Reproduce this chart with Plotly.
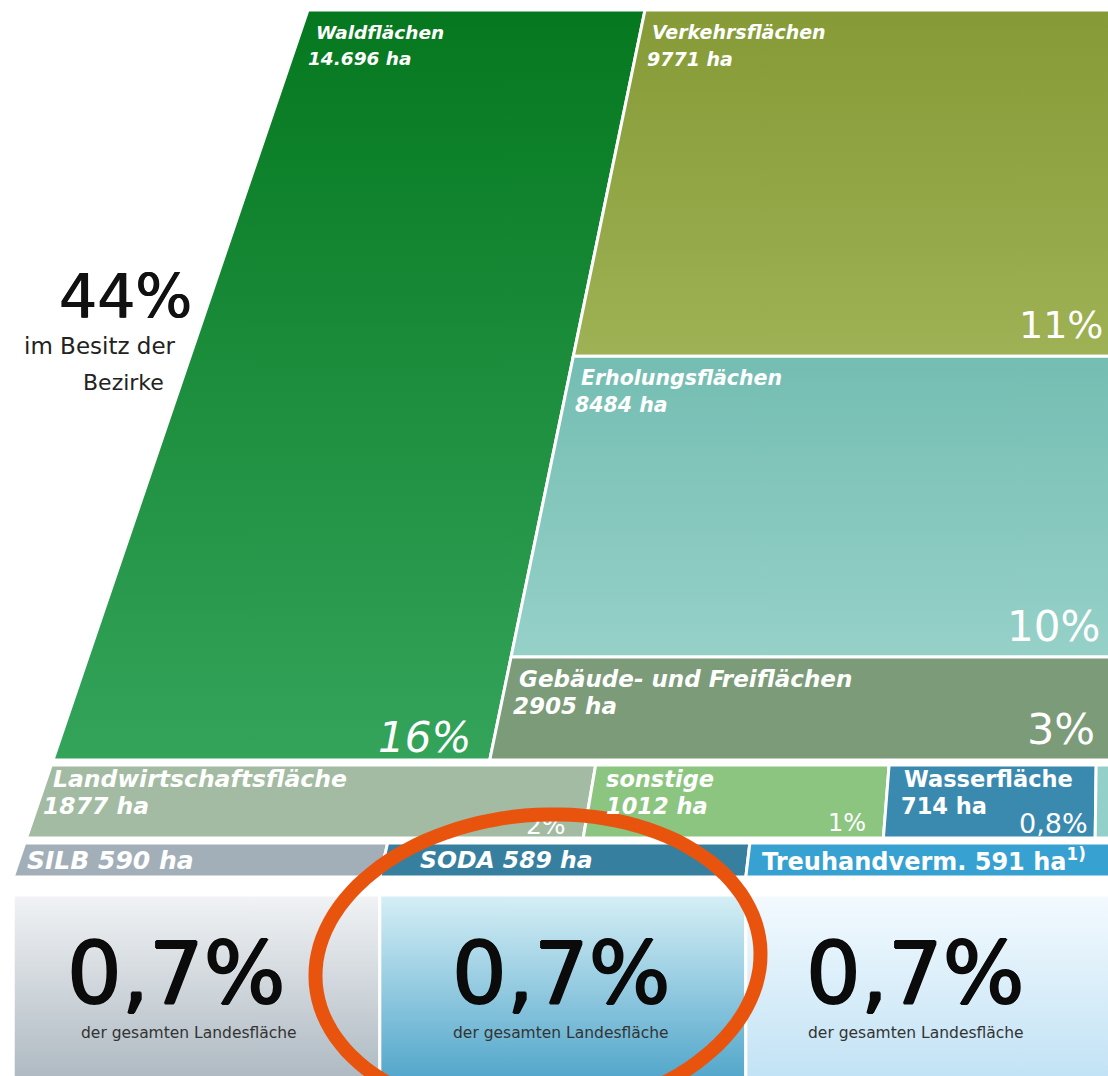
import numpy as np
import plotly.graph_objects as go

# ---------------- data ----------------
top_names = ["Waldflächen", "Verkehrsflächen", "Erholungsflächen", "Gebäude- und Freiflächen"]
top_ha = [14696, 9771, 8484, 2905]
top_ha_labels = ["14.696 ha", "9771 ha", "8484 ha", "2905 ha"]
top_pct = ["16%", "11%", "10%", "3%"]

row2_names = ["Landwirtschaftsfläche", "sonstige", "Wasserfläche"]
row2_ha = [1877, 1012, 714]
row2_ha_labels = ["1877 ha", "1012 ha", "714 ha"]
row2_pct = ["2%", "1%", "0,8%"]

row3_names = ["SILB", "SODA", "Treuhandverm."]
row3_ha = [590, 589, 591]
row3_labels = ["SILB 590 ha", "SODA 589 ha", "Treuhandverm. 591 ha<sup>1)</sup>"]
row3_pct = ["0,7%", "0,7%", "0,7%"]

bezirke_pct = "44%"
bezirke_text = ["im Besitz der", "Bezirke"]
box_caption = "der gesamten Landesfläche"

# ---------------- styles / geometry ----------------
W, H = 1108, 1076
XR = 1140
Y0, Y1 = 10, 760
R2 = (765, 838)
R3 = (843, 877)
BOX = (895, 1095)
S2 = 0.29     # px per ha, row 2
S3 = 0.615    # px per ha, row 3
LBL = "DejaVu Sans"


def xl(y):  # slanted left outline
    return 308 - 0.34 * (y - 10)


def xd(y):  # divider between forest and right column
    return 645 - 0.207 * (y - 10)


top_colors = [("#05781F", "#34A45B"), ("#869A37", "#9EB154"),
              ("#74BDB2", "#96D1C8"), ("#7B9B79", "#7B9B79")]
row2_colors = ["#A3BBA2", "#8CC580", "#3A8AB0", "#93D0CA"]
row3_colors = ["#A3AFB8", "#377F9F", "#37A1D1"]
box_colors = [("#F1F3F5", "#A8B4BD"), ("#D6EFF6", "#47A0C7"), ("#F3FAFE", "#BDE0F4")]

fig = go.Figure()


def poly(xs, ys, c_top, c_bot=None):
    xs = list(xs) + [xs[0]]
    ys = list(ys) + [ys[0]]
    kw = dict(x=xs, y=ys, mode="lines", fill="toself",
              line=dict(color="white", width=3), hoverinfo="skip", showlegend=False)
    if c_bot is None or c_bot == c_top:
        kw["fillcolor"] = c_top
    else:
        kw["fillgradient"] = dict(type="vertical", start=min(ys), stop=max(ys),
                                  colorscale=[[0, c_top], [1, c_bot]])
    fig.add_trace(go.Scatter(**kw))


ann = []


def label(x, y, text, size, color="white", anchor="left", weight=700, style="italic",
          family=LBL, shadow=None):
    f = dict(family=family, size=size, color=color, weight=weight, style=style)
    if shadow:
        f["shadow"] = shadow
    ann.append(dict(x=x, y=y, text=text, xref="x", yref="y", showarrow=False,
                    xanchor=anchor, yanchor="middle", font=f))


# --- forest (left block) ---
poly([xl(Y0), xd(Y0), xd(Y1), xl(Y1)], [Y0, Y0, Y1, Y1], *top_colors[0])
label(xl(32) + 13, 32, top_names[0], 18.5)
label(xl(58) + 14, 58, top_ha_labels[0], 18.5)
label(xd(737) - 22, 737, top_pct[0], 42, anchor="right", weight=400)

# --- right column, heights proportional to area ---
right_vals = np.array(top_ha[1:], dtype=float)
bounds = Y0 + np.concatenate([[0], np.cumsum(right_vals)]) / right_vals.sum() * (Y1 - Y0)
name_sz = [19, 20.5, 23]
pct_sz_top = [38, 42, 43]
pct_right = [1105, 1102, 1097]
for i in range(3):
    ya, yb = bounds[i], bounds[i + 1]
    poly([xd(ya), XR, XR, xd(yb)], [ya, ya, yb, yb], *top_colors[i + 1])
    label(xd(ya + 22) + 10, ya + 22, top_names[i + 1], name_sz[i])
    label(xd(ya + 49) + 10, ya + 49, top_ha_labels[i + 1], name_sz[i])
    label(pct_right[i], yb - 31, top_pct[i + 1], pct_sz_top[i], anchor="right", weight=400,
          style="normal")


# --- row 2 ---
def row_dividers(vals, scale, ya, yb):
    xt0 = xl(ya)
    xt = xt0 + scale * np.concatenate([[0], np.cumsum(vals)])
    shift = xl(yb) - xl(ya)
    xb = xt + shift * (1 - (xt - xt0) / (XR - xt0))
    return xt, xb


xt2, xb2 = row_dividers(row2_ha, S2, *R2)
xt2 = list(xt2) + [XR]
xb2 = list(xb2) + [XR]
for i in range(4):
    poly([xt2[i], xt2[i + 1], xb2[i + 1], xb2[i]], [R2[0], R2[0], R2[1], R2[1]], row2_colors[i])
pads = [4, 8, 13]
styles = ["italic", "italic", "normal"]
sz2 = [23.5, 22.5, 22.5]
for i in range(3):
    xa = xt2[i] if i else xl(779)
    label(xa + pads[i], 779, row2_names[i], sz2[i], style=styles[i])
    xa = xt2[i] if i else xl(806)
    label(xa + pads[i] - (3 if i == 2 else 0), 806, row2_ha_labels[i], sz2[i], style=styles[i])
pct_x = [xt2[1] - 30, xt2[2] - 21, xt2[3] - 6]
pct_y = [828, 823, 823]
pct_sz = [25, 24, 27]
# "2%" sits below the highlight ring -> drawn as a trace (under the ring shape)
fig.add_trace(go.Scatter(x=[pct_x[0]], y=[pct_y[0]], mode="text", text=[row2_pct[0]],
                         textposition="middle left",
                         textfont=dict(family=LBL, size=pct_sz[0], color="white"),
                         hoverinfo="skip", showlegend=False))
for i in range(1, 3):
    label(pct_x[i], pct_y[i], row2_pct[i], pct_sz[i], anchor="right", weight=400, style="normal")

# --- row 3 ---
xt3, xb3 = row_dividers(row3_ha, S3, *R3)
xt3 = list(xt3[:-1]) + [XR]
xb3 = list(xb3[:-1]) + [XR]
pads3 = [6, 30, 10]
styles3 = ["italic", "italic", "normal"]
sz3 = [25, 23.5, 24]
for i in range(3):
    poly([xt3[i], xt3[i + 1], xb3[i + 1], xb3[i]], [R3[0], R3[0], R3[1], R3[1]], row3_colors[i])
    xa = xt3[i] if i else xl(860)
    label(xa + pads3[i], 860, row3_labels[i], sz3[i], style=styles3[i])

# --- bottom boxes ---
offs_num = [-20, -1, -11]
offs_cap = [-8, -2, -11]
thick = "1px 0px 0px #0B0B0B, -1px 0px 0px #0B0B0B, 0px 1px 0px #0B0B0B, 0px -1px 0px #0B0B0B"
for i in range(3):
    xa, xb = xb3[i], xb3[i + 1]
    poly([xa, xb, xb, xa], [BOX[0], BOX[0], BOX[1], BOX[1]], *box_colors[i])
    c = (xa + min(xb, W)) / 2
    label(c + offs_num[i], 973, row3_pct[i], 86, color="#0B0B0B", anchor="center", weight=400,
          style="normal", shadow=thick)
    label(c + offs_cap[i], 1033, box_caption, 15.5, color="#333333", anchor="center", weight=400,
          style="normal")

# --- 44% note ---
label(125, 296, bezirke_pct, 60, color="#111111", anchor="center", weight=400,
      style="normal", shadow="0.5px 0px 0px #111111, -0.5px 0px 0px #111111")
label(100, 346, bezirke_text[0], 23, color="#222222", anchor="center", weight=400,
      style="normal")
label(166, 382, bezirke_text[1], 22, color="#222222", anchor="right", weight=400,
      style="normal")

# --- highlight ring (slightly tilted ellipse) ---
t = np.linspace(0, 2 * np.pi, 121)
cx, cy, rx, ry, th = 538, 965, 223, 150, np.deg2rad(-5)
ex = cx + rx * np.cos(t) * np.cos(th) - ry * np.sin(t) * np.sin(th)
ey = cy + rx * np.cos(t) * np.sin(th) + ry * np.sin(t) * np.cos(th)
ring = "M " + " L ".join(f"{a:.1f},{b:.1f}" for a, b in zip(ex, ey)) + " Z"

fig.update_layout(
    width=W, height=H, margin=dict(l=0, r=0, t=0, b=0),
    paper_bgcolor="white", plot_bgcolor="white",
    xaxis=dict(range=[0, W], visible=False, fixedrange=True),
    yaxis=dict(range=[H, 0], visible=False, fixedrange=True),
    annotations=ann,
    shapes=[dict(type="path", path=ring, xref="x", yref="y",
                 line=dict(color="#E8540E", width=14), layer="above")],
    font=dict(family=LBL),
)

fig.write_html("out.html", config={"displayModeBar": False, "staticPlot": True},
               post_script="document.body.style.margin='0';document.body.style.overflow='hidden';")
